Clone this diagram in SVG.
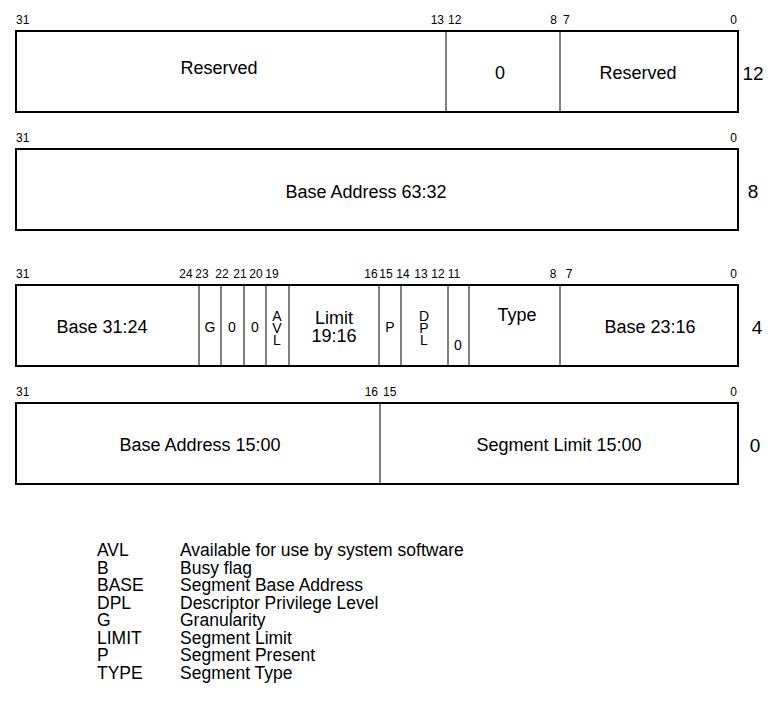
<svg xmlns="http://www.w3.org/2000/svg" width="771" height="709" viewBox="0 0 771 709">
<style>
text{font-family:"Liberation Sans",Arial,sans-serif;fill:#000}
.bit{font-size:12px}
.f{font-size:18px;text-anchor:middle}
.s{font-size:14px;text-anchor:middle}
.row{font-size:19px;text-anchor:middle}
.lg{font-size:17.5px}
.e{text-anchor:end}
.m{text-anchor:middle}
.box{fill:#fff;stroke:#000;stroke-width:2}
.div{stroke:#000;stroke-width:1}
</style>
<rect width="771" height="709" fill="#fff"/>
<g id="row12">
<rect class="box" x="16" y="31" width="722" height="81"/>
<line class="div" x1="446" y1="31" x2="446" y2="112"/>
<line class="div" x1="560" y1="31" x2="560" y2="112"/>
<text class="bit" x="16" y="24">31</text>
<text class="bit e" x="444" y="24">13</text>
<text class="bit" x="448" y="24">12</text>
<text class="bit e" x="557" y="24">8</text>
<text class="bit" x="563" y="24">7</text>
<text class="bit e" x="737" y="24">0</text>
<text class="f" x="219" y="74">Reserved</text>
<text class="f" x="500" y="79">0</text>
<text class="f" x="638" y="79">Reserved</text>
<text class="row" x="753" y="80">12</text>
</g>
<g id="row8">
<rect class="box" x="16" y="149" width="722" height="81"/>
<text class="bit" x="16" y="142">31</text>
<text class="bit e" x="737" y="142">0</text>
<text class="f" x="366" y="198">Base Address 63:32</text>
<text class="row" x="753" y="198">8</text>
</g>
<g id="row4">
<rect class="box" x="16" y="285" width="722" height="81"/>
<g class="div">
<line x1="199" y1="285" x2="199" y2="366"/>
<line x1="221" y1="285" x2="221" y2="366"/>
<line x1="244" y1="285" x2="244" y2="366"/>
<line x1="266" y1="285" x2="266" y2="366"/>
<line x1="289" y1="285" x2="289" y2="366"/>
<line x1="379" y1="285" x2="379" y2="366"/>
<line x1="401" y1="285" x2="401" y2="366"/>
<line x1="448" y1="285" x2="448" y2="366"/>
<line x1="469" y1="285" x2="469" y2="366"/>
<line x1="560" y1="285" x2="560" y2="366"/>
</g>
<text class="bit" x="16" y="278">31</text>
<text class="bit m" x="186" y="278">24</text>
<text class="bit m" x="202" y="278">23</text>
<text class="bit m" x="222" y="278">22</text>
<text class="bit m" x="240" y="278">21</text>
<text class="bit m" x="256" y="278">20</text>
<text class="bit m" x="272" y="278">19</text>
<text class="bit m" x="371" y="278">16</text>
<text class="bit m" x="386" y="278">15</text>
<text class="bit m" x="403" y="278">14</text>
<text class="bit m" x="421" y="278">13</text>
<text class="bit m" x="438" y="278">12</text>
<text class="bit m" x="454" y="278">11</text>
<text class="bit m" x="553" y="278">8</text>
<text class="bit m" x="569" y="278">7</text>
<text class="bit e" x="737" y="278">0</text>
<text class="f" x="102" y="333">Base 31:24</text>
<text class="s" x="210" y="332">G</text>
<text class="s" x="232" y="332">0</text>
<text class="s" x="255" y="332">0</text>
<text class="s" x="277" y="321">A</text>
<text class="s" x="277" y="333">V</text>
<text class="s" x="277" y="345">L</text>
<text class="f" x="334" y="324">Limit</text>
<text class="f" x="334" y="342">19:16</text>
<text class="s" x="390" y="332">P</text>
<text class="s" x="424" y="321">D</text>
<text class="s" x="424" y="333">P</text>
<text class="s" x="424" y="345">L</text>
<text class="s" x="458" y="350">0</text>
<text class="f" x="517" y="321">Type</text>
<text class="f" x="650" y="333">Base 23:16</text>
<text class="row" x="757" y="334">4</text>
</g>
<g id="row0">
<rect class="box" x="16" y="403" width="722" height="81"/>
<line class="div" x1="380" y1="403" x2="380" y2="484"/>
<text class="bit" x="16" y="396">31</text>
<text class="bit e" x="378" y="396">16</text>
<text class="bit" x="383" y="396">15</text>
<text class="bit e" x="737" y="396">0</text>
<text class="f" x="200" y="451">Base Address 15:00</text>
<text class="f" x="559" y="451">Segment Limit 15:00</text>
<text class="row" x="755" y="452">0</text>
</g>
<g id="legend" class="lg">
<text x="97" y="556">AVL</text><text x="180" y="556">Available for use by system software</text>
<text x="97" y="573.5">B</text><text x="180" y="573.5">Busy flag</text>
<text x="97" y="591">BASE</text><text x="180" y="591">Segment Base Address</text>
<text x="97" y="608.5">DPL</text><text x="180" y="608.5">Descriptor Privilege Level</text>
<text x="97" y="626">G</text><text x="180" y="626">Granularity</text>
<text x="97" y="643.5">LIMIT</text><text x="180" y="643.5">Segment Limit</text>
<text x="97" y="661">P</text><text x="180" y="661">Segment Present</text>
<text x="97" y="678.5">TYPE</text><text x="180" y="678.5">Segment Type</text>
</g>
</svg>
